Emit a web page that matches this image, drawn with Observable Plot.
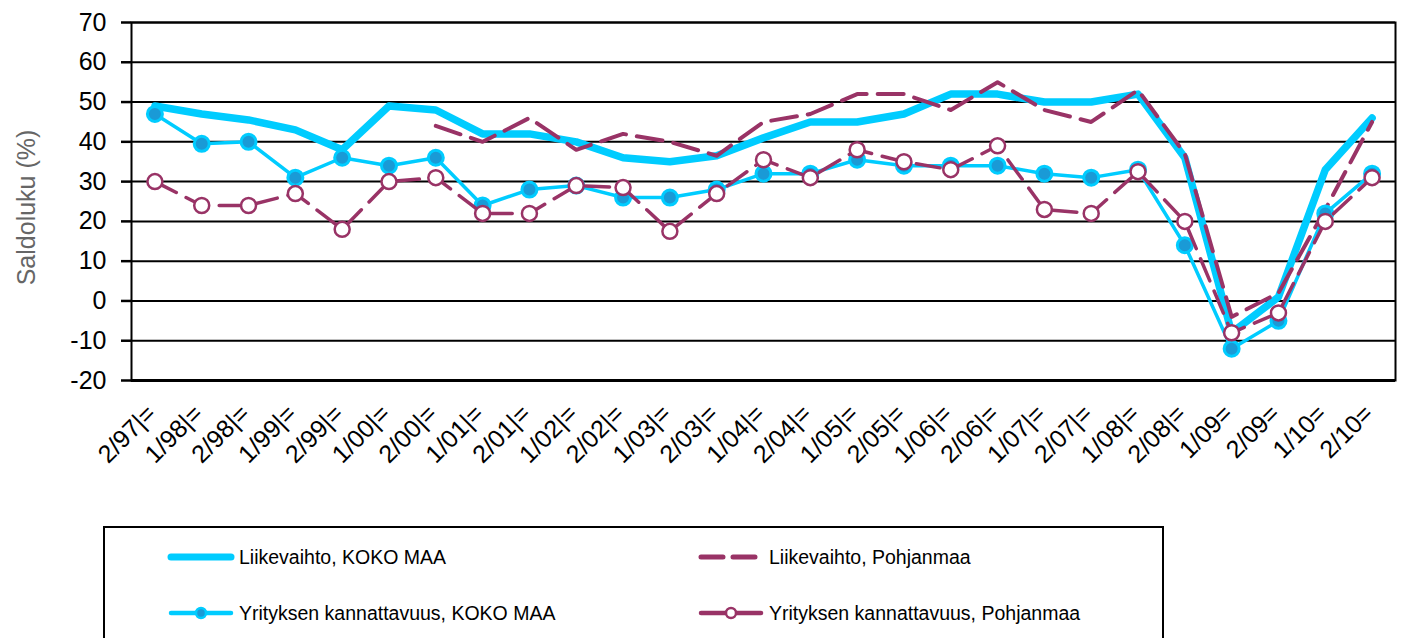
<!DOCTYPE html>
<html>
<head>
<meta charset="utf-8">
<script src="https://cdn.jsdelivr.net/npm/d3@7"></script>
<script src="https://cdn.jsdelivr.net/npm/@observablehq/plot@0.6"></script>
<style>
  html, body { margin: 0; padding: 0; background: #fff; overflow: hidden; }
  #wrap { position: relative; width: 1404px; height: 638px; font-family: "Liberation Sans", Arial, sans-serif; }
  #legend { position: absolute; left: 103px; top: 526px; width: 1061px; height: 160px; border: 2px solid #000; box-sizing: border-box; }
  .item { position: absolute; display: flex; align-items: center; font-size: 19.5px; color: #000; white-space: nowrap; }
  .item svg { margin-right: 4px; }
</style>
</head>
<body>
<div id="wrap">
  <div id="chart"></div>
  <div id="legend"></div>
</div>
<script>
const periods = ["2/97|=","1/98|=","2/98|=","1/99|=","2/99|=","1/00|=","2/00|=","1/01|=","2/01|=","1/02|=","2/02|=","1/03|=","2/03|=","1/04|=","2/04|=","1/05|=","2/05|=","1/06|=","2/06|=","1/07|=","2/07|=","1/08|=","2/08|=","1/09=","2/09=","1/10=","2/10="];
const liikevaihtoKoko = [49,47,45.5,43,38,49,48,42,42,40,36,35,36.5,41,45,45,47,52,52,50,50,52,36,-8,1,33,46];
const liikevaihtoPohj = [null,null,null,null,null,null,44,40,46,38,42,40,36.5,45,47,52,52,48,55,48,45,53,37,-4,2,23,45];
const yritysKoko = [47,39.5,40,31,36,34,36,24,28,29,26,26,28,32,32,35.5,34,34,34,32,31,33,14,-12,-5,22,32];
const yritysPohj = [30,24,24,27,18,30,31,22,22,29,28.5,17.5,27,35.5,31,38,35,33,39,23,22,32.5,20,-8,-3,20,31];
const yTicks = [-20,-10,0,10,20,30,40,50,60,70];
const yTitle = "Saldoluku (%)";
const seriesNames = ["Liikevaihto, KOKO MAA","Liikevaihto, Pohjanmaa","Yrityksen kannattavuus, KOKO MAA","Yrityksen kannattavuus, Pohjanmaa"];

const CYAN = "#00ccff", CYAN_DARK = "#1a9ad6", PLUM = "#993366";

const rows = (vals) => periods.map((p, i) => ({period: p, value: vals[i]})).filter(d => d.value != null);
const lkKoko = rows(liikevaihtoKoko), lkPohj = rows(liikevaihtoPohj), yrKoko = rows(yritysKoko), yrPohj = rows(yritysPohj);

const chart = Plot.plot({
  width: 1404,
  height: 500,
  marginLeft: 131,
  marginRight: 9,
  marginTop: 22,
  marginBottom: 120,
  style: {fontFamily: "'Liberation Sans', Arial, sans-serif", background: "#fff", overflow: "visible"},
  x: {type: "point", domain: periods, padding: 0.5, round: false},
  y: {domain: [-20, 70]},
  marks: [
    Plot.gridY(yTicks, {stroke: "#000", strokeOpacity: 1, strokeWidth: 2}),
    Plot.frame({stroke: "#000", strokeWidth: 2}),
    Plot.ruleY([-20], {stroke: "#000", strokeWidth: 3}),
    Plot.axisY(yTicks, {tickSize: 10, tickPadding: 15, fontSize: 25, strokeWidth: 2.5, label: null, color: "#000", tickFormat: d => String(d)}),
    Plot.axisX({tickRotate: -45, tickSize: 0, tickPadding: 16, fontSize: 25, label: null, color: "#000", textAnchor: "end", lineAnchor: "top", dx: -10, dy: 6}),
    Plot.text([yTitle], {frameAnchor: "left", text: d => d, rotate: -90, textAnchor: "middle", dx: -105, dy: 6, fontSize: 25, fill: "#666"}),
    Plot.line(lkKoko, {x: "period", y: "value", stroke: CYAN, strokeWidth: 7.5, strokeLinejoin: "round"}),
    Plot.line(lkPohj, {x: "period", y: "value", stroke: PLUM, strokeWidth: 4, strokeDasharray: "26,11"}),
    Plot.line(yrKoko, {x: "period", y: "value", stroke: CYAN, strokeWidth: 3.5, strokeLinejoin: "round"}),
    Plot.dot(yrKoko, {x: "period", y: "value", r: 7.5, fill: CYAN_DARK, stroke: CYAN, strokeWidth: 3}),
    Plot.line(yrPohj, {x: "period", y: "value", stroke: PLUM, strokeWidth: 3.5, strokeDasharray: "24,11"}),
    Plot.dot(yrPohj, {x: "period", y: "value", r: 7.5, fill: "#fff", stroke: PLUM, strokeWidth: 2.5})
  ]
});
document.getElementById("chart").appendChild(chart);

// Legend
const legend = document.getElementById("legend");
const legendDefs = [
  {name: seriesNames[0], left: 62, top: 16, kind: "thick"},
  {name: seriesNames[1], left: 592, top: 16, kind: "dash"},
  {name: seriesNames[2], left: 62, top: 72, kind: "dotCyan"},
  {name: seriesNames[3], left: 592, top: 72, kind: "dotPlum"}
];
for (const d of legendDefs) {
  const div = document.createElement("div");
  div.className = "item";
  div.style.left = d.left + "px";
  div.style.top = d.top + "px";
  let sw = "";
  if (d.kind === "thick") sw = `<line x1="4" y1="13" x2="64" y2="13" stroke="${CYAN}" stroke-width="7" stroke-linecap="round"/>`;
  if (d.kind === "dash") sw = `<line x1="4" y1="13" x2="64" y2="13" stroke="${PLUM}" stroke-width="5" stroke-linecap="round" stroke-dasharray="22,10"/>`;
  if (d.kind === "dotCyan") sw = `<line x1="4" y1="13" x2="64" y2="13" stroke="${CYAN}" stroke-width="4.5" stroke-linecap="round"/><circle cx="34" cy="13" r="5" fill="${CYAN_DARK}" stroke="${CYAN}" stroke-width="2.5"/>`;
  if (d.kind === "dotPlum") sw = `<line x1="4" y1="13" x2="64" y2="13" stroke="${PLUM}" stroke-width="4.5" stroke-linecap="round"/><circle cx="34" cy="13" r="5" fill="#fff" stroke="${PLUM}" stroke-width="2.5"/>`;
  div.innerHTML = `<svg width="68" height="26">${sw}</svg><span>${d.name}</span>`;
  legend.appendChild(div);
}
</script>
</body>
</html>
